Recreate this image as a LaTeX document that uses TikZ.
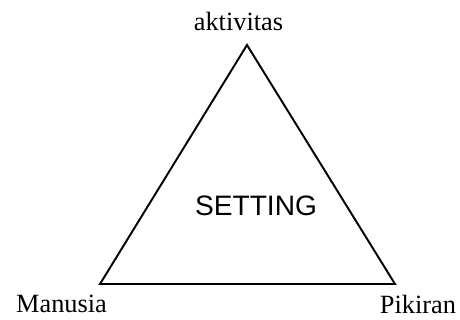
\documentclass[tikz,border=0pt]{standalone}
\usepackage{fontspec}
\setmainfont{Liberation Serif}
\setsansfont{Liberation Sans}
\usepackage{tikz}
\usetikzlibrary{positioning,calc}

\begin{document}
\begin{tikzpicture}[
    x=0.02cm, y=-0.02cm,
    corner/.style={font=\fontsize{15}{17}\selectfont},
    center/.style={font=\sffamily\fontsize{16}{18}\selectfont},
    edge/.style={line width=1.1pt, line join=miter}
]
\useasboundingbox (0,0) rectangle (460,320);

% triangle corners
\coordinate (top) at (247,45);
\coordinate (left) at (100,284);
\coordinate (right) at (395,284);

% triangle
\draw[edge] (top) -- (right) -- (left) -- cycle;

% labels
\node[corner] (akt) at (238.5,21) {aktivitas};
\node[corner] (man) at (61.5,304) {Manusia};
\node[corner] (pik) at (418,304) {Pikiran};

% centre text
\node[center] (set) at (256,206) {SETTING};
\end{tikzpicture}
\end{document}
